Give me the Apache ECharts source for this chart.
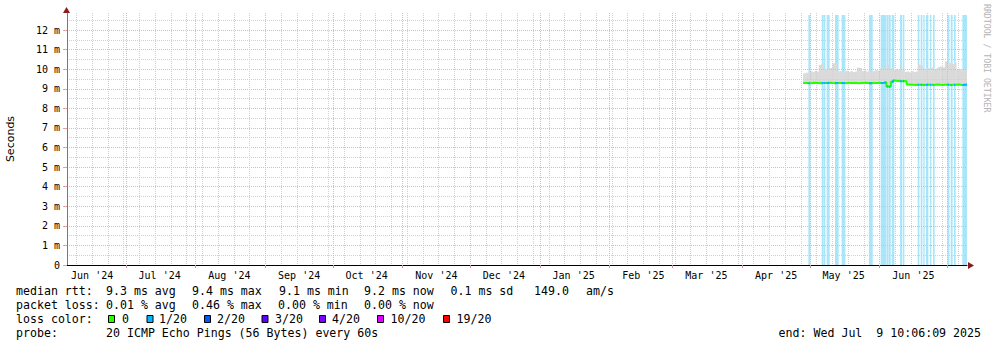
<!DOCTYPE html>
<html><head><meta charset="utf-8">
<script src="https://cdn.jsdelivr.net/npm/echarts@6/dist/echarts.min.js"></script>
<style>html,body{margin:0;padding:0;background:#fff}#c{width:997px;height:347px}</style>
</head><body><div id="c"></div>
<script>
const DAY = 86400000;
// time range of the graph (400 days)
const startTime = Date.UTC(2024, 5, 4, 20, 0);
const endTime = startTime + 400 * DAY;
// first daily sample of the smoke / median data
const firstSample = '2025-04-28T00:00Z';

// median RTT per day (ms), Apr 28 .. Jul 9 2025
const medianRtt = [
  9.29, 9.30, 9.28, 9.29, 9.31, 9.30, 9.29, 9.28, 9.30, 9.29, 9.30, 9.31,
  9.29, 9.28, 9.29, 9.30, 9.30, 9.29, 9.28, 9.29, 9.30, 9.29, 9.29, 9.30,
  9.28, 9.29, 9.30, 9.31, 9.29, 9.28, 9.30, 9.29, 9.30, 9.29, 9.30, 9.31,
  9.33, 9.12, 9.10, 9.36,
  9.42, 9.40, 9.41, 9.39, 9.40, 9.38,
  9.22, 9.20, 9.21, 9.19, 9.20, 9.21, 9.20, 9.19, 9.21, 9.20, 9.20, 9.19,
  9.21, 9.22, 9.20, 9.19, 9.20, 9.21, 9.20, 9.19, 9.20, 9.21, 9.22, 9.20,
  9.19, 9.20, 9.20
];
// upper edge of the smoke per day (ms)
const smokeTop = [
  9.78, 9.82, 9.80, 9.90, 9.86, 9.92, 9.88, 10.22, 10.25, 9.96, 9.98, 10.04,
  10.06, 10.30, 10.26, 9.86, 9.90, 9.84, 9.88, 9.92, 9.86, 9.90, 9.85, 9.88,
  10.08, 10.06, 9.90, 9.94, 9.88, 9.92, 9.86, 9.90, 9.95, 9.92, 10.04, 10.00,
  10.06, 10.22, 10.00, 10.04, 9.96, 10.02, 9.98, 10.04, 9.96, 9.86, 9.88, 9.84,
  9.90, 9.86, 9.88, 10.24, 10.20, 10.04, 10.00, 10.06, 10.02, 10.08, 10.00, 10.04,
  10.12, 10.14, 10.10, 10.40, 10.36, 10.30, 10.26, 10.32, 9.96, 10.00, 9.94, 9.98,
  9.96
];
// intervals with packet loss (1/20)
const lossIntervals = [
  ['2025-04-30T08:00Z', '2025-05-01T02:00Z'],
  ['2025-05-06T06:00Z', '2025-05-06T23:00Z'],
  ['2025-05-07T06:00Z', '2025-05-07T17:00Z'],
  ['2025-05-08T11:00Z', '2025-05-09T15:00Z'],
  ['2025-05-12T04:00Z', '2025-05-13T15:00Z'],
  ['2025-05-15T03:00Z', '2025-05-16T14:00Z'],
  ['2025-05-27T06:00Z', '2025-05-28T18:00Z'],
  ['2025-06-01T11:00Z', '2025-06-03T20:00Z'],
  ['2025-06-04T03:00Z', '2025-06-04T20:00Z'],
  ['2025-06-05T04:00Z', '2025-06-05T18:00Z'],
  ['2025-06-06T09:00Z', '2025-06-07T09:00Z'],
  ['2025-06-10T01:00Z', '2025-06-10T19:00Z'],
  ['2025-06-11T06:00Z', '2025-06-11T20:00Z'],
  ['2025-06-17T22:00Z', '2025-06-18T12:00Z'],
  ['2025-06-19T06:00Z', '2025-06-19T20:00Z'],
  ['2025-06-20T10:00Z', '2025-06-20T20:00Z'],
  ['2025-06-21T14:00Z', '2025-06-22T12:00Z'],
  ['2025-06-23T09:00Z', '2025-06-23T20:00Z'],
  ['2025-06-24T17:00Z', '2025-06-25T07:00Z'],
  ['2025-07-01T02:00Z', '2025-07-01T20:00Z'],
  ['2025-07-02T14:00Z', '2025-07-03T07:00Z'],
  ['2025-07-04T01:00Z', '2025-07-04T15:00Z'],
  ['2025-07-07T18:00Z', '2025-07-09T20:00Z']
];
const lossBarTop = 12.77;
// axis ticks
const monthStarts = ['2024-07-01','2024-08-01','2024-09-01','2024-10-01','2024-11-01','2024-12-01',
  '2025-01-01','2025-02-01','2025-03-01','2025-04-01','2025-05-01','2025-06-01','2025-07-01'];
const monthLabelDays = ['2024-06-16','2024-07-16','2024-08-16','2024-09-16','2024-10-16','2024-11-16',
  '2024-12-16','2025-01-16','2025-02-16','2025-03-16','2025-04-16','2025-05-16','2025-06-16'];
const firstSunday = '2024-06-09';
const yMax = 12.87;
const yTicks = [0,1,2,3,4,5,6,7,8,9,10,11,12];
const yMajorGrid = [1,2,3,4,5,6,7,8,9,10,11,12];
const yMinorGrid = [0.5,1.5,2.5,3.5,4.5,5.5,6.5,7.5,8.5,9.5,10.5,11.5,12.5];
const monthNames = ['Jan','Feb','Mar','Apr','May','Jun','Jul','Aug','Sep','Oct','Nov','Dec'];

const lossLegend = [
  ['0', '#26ff00'], ['1/20', '#00b8ff'], ['2/20', '#0059ff'], ['3/20', '#5e00ff'],
  ['4/20', '#7e00ff'], ['10/20', '#dd00ff'], ['19/20', '#ff0000']
];

const MONO = '"DejaVu Sans Mono", monospace';
const t0 = Date.parse(firstSample);
const sampleTimes = medianRtt.map((_, i) => t0 + i * DAY);
const monthStartTimes = monthStarts.map(d => Date.parse(d + 'T00:00Z'));
const monthLabelTimes = monthLabelDays.map(d => Date.parse(d + 'T00:00Z'));
const weekTimes = [];
for (let t = Date.parse(firstSunday + 'T00:00Z'); t < endTime; t += 7 * DAY) weekTimes.push(t);

const gridMinor = {color: '#d0d0d0', width: 1, type: [1, 1]};
const gridMajor = {color: '#ecb4b4', width: 1, type: [1, 1]};

// smoke rectangles
const smokeData = sampleTimes.map((t, i) => [t, Math.min(t + DAY, endTime), medianRtt[i], smokeTop[i]]);
// median line
const medianLine = sampleTimes.map((t, i) => [t, medianRtt[i]]);
medianLine.push([endTime, medianRtt[medianRtt.length - 1]]);
function medianAt(t) {
  let i = Math.floor((t - t0) / DAY);
  i = Math.max(0, Math.min(medianRtt.length - 1, i));
  return medianRtt[i];
}
const lossLine = [];
lossIntervals.forEach(([a, b]) => {
  const ts = Date.parse(a), te = Math.min(Date.parse(b), endTime);
  lossLine.push([ts, medianAt(ts)]);
  for (let t = t0 + Math.ceil((ts - t0) / DAY) * DAY; t < te; t += DAY) lossLine.push([t, medianAt(t)]);
  lossLine.push([te, medianAt(te - 1)]);
  lossLine.push([te + 1, null]);
});
const lossBars = lossIntervals.map(([a, b]) => [Date.parse(a), Math.min(Date.parse(b), endTime), lossBarTop]);

function rectItem(api, x0v, x1v, y0v, y1v, fill) {
  const p0 = api.coord([x0v, y0v]);
  const p1 = api.coord([x1v, y1v]);
  return {type: 'rect', shape: {x: p0[0], y: p1[1], width: p1[0] - p0[0] + 0.4, height: p0[1] - p1[1]},
    style: {fill: fill}};
}

const chart = echarts.init(document.getElementById('c'), null, {renderer: 'svg', width: 997, height: 347});

const graphics = [];
function txt(x, y, s, opts) {
  graphics.push({type: 'text', x: x, y: y, silent: true,
    style: Object.assign({text: s, font: '11.6px ' + MONO, fill: '#000',
      textVerticalAlign: 'middle', verticalAlign: 'middle'}, opts || {})});
}
// arrows
graphics.push({type: 'polygon', silent: true, shape: {points: [[66.5, 7], [63, 13], [70, 13]]}, style: {fill: '#8b1a1a'}});
graphics.push({type: 'polygon', silent: true, shape: {points: [[974, 265.5], [968, 262], [968, 269]]}, style: {fill: '#8b1a1a'}});
// legend rows
txt(16, 291, 'median rtt:');
txt(106, 291, '9.3 ms avg');
txt(192, 291, '9.4 ms max');
txt(279, 291, '9.1 ms min');
txt(364, 291, '9.2 ms now');
txt(450.5, 291, '0.1 ms sd');
txt(534, 291, '149.0');
txt(586, 291, 'am/s');
txt(16, 305, 'packet loss:');
txt(106, 305, '0.01 % avg');
txt(192, 305, '0.46 % max');
txt(278, 305, '0.00 % min');
txt(364, 305, '0.00 % now');
txt(16, 319, 'loss color:');
const sqX = [108.5, 147, 204.5, 262, 319.5, 377.5, 443.5];
const lbX = [122, 159, 217, 275, 332, 390.5, 456.5];
lossLegend.forEach(([lab, col], i) => {
  graphics.push({type: 'rect', silent: true, shape: {x: sqX[i], y: 315.5, width: 6, height: 7},
    style: {fill: col, stroke: '#000', lineWidth: 1}});
  txt(lbX[i], 319, lab);
});
txt(16, 333, 'probe:');
txt(106, 333, '20 ICMP Echo Pings (56 Bytes) every 60s');
txt(981, 333, 'end: Wed Jul  9 10:06:09 2025', {textAlign: 'right', align: 'right'});
// side credit
graphics.push({type: 'text', x: 987, y: 4, rotation: -Math.PI / 2, silent: true,
  style: {text: 'RRDTOOL / TOBI OETIKER', font: '8.2px ' + MONO, fill: '#b4b4b4',
    textAlign: 'left', align: 'left', textVerticalAlign: 'middle', verticalAlign: 'middle'}});

const hiddenParts = {axisLine: {show: false}, axisLabel: {show: false}};

chart.setOption({
  animation: false,
  backgroundColor: '#ffffff',
  grid: {left: 67, right: 30, top: 13, bottom: 82, containLabel: false, outerBoundsMode: 'none'},
  xAxis: [
    {
      type: 'value', min: startTime, max: endTime, z: 5,
      axisLine: {show: true, lineStyle: {color: '#000', width: 1}},
      axisTick: {show: true, customValues: monthStartTimes, length: 3, lineStyle: {color: '#e08a8a'}},
      axisLabel: {
        customValues: monthLabelTimes, margin: 5, fontFamily: MONO, fontSize: 10, color: '#000',
        formatter: v => { const d = new Date(v); return monthNames[d.getUTCMonth()] + " '" + String(d.getUTCFullYear()).slice(2); }
      },
      splitLine: {show: false}
    },
    Object.assign({
      type: 'value', min: startTime, max: endTime, z: 2,
      axisTick: {show: false, customValues: weekTimes},
      splitLine: {show: true, lineStyle: gridMinor}
    }, hiddenParts),
    Object.assign({
      type: 'value', min: startTime, max: endTime, z: 2,
      axisTick: {show: false, customValues: monthStartTimes},
      splitLine: {show: true, lineStyle: gridMajor}
    }, hiddenParts)
  ],
  yAxis: [
    {
      type: 'value', min: 0, max: yMax, z: 5,
      axisLine: {show: true, lineStyle: {color: '#777', width: 1}},
      axisTick: {show: true, customValues: yTicks, length: 4, lineStyle: {color: '#e0a0a0'}},
      axisLabel: {
        customValues: yTicks, margin: 7, fontFamily: MONO, fontSize: 10, color: '#000',
        formatter: v => (v === 0 ? '0' : v + ' m')
      },
      splitLine: {show: false},
      name: 'Seconds', nameLocation: 'middle', nameRotate: 90, nameGap: 51,
      nameTextStyle: {fontFamily: '"DejaVu Sans", sans-serif', fontSize: 11, color: '#000'}
    },
    Object.assign({
      type: 'value', min: 0, max: yMax, z: 2, position: 'left',
      axisTick: {show: false, customValues: yMinorGrid},
      splitLine: {show: true, lineStyle: gridMinor}
    }, hiddenParts),
    Object.assign({
      type: 'value', min: 0, max: yMax, z: 2, position: 'left',
      axisTick: {show: false, customValues: yMajorGrid},
      splitLine: {show: true, lineStyle: gridMajor}
    }, hiddenParts)
  ],
  series: [
    {
      type: 'custom', z: 1, silent: true, clip: true,
      renderItem: (params, api) => rectItem(api, api.value(0), api.value(1), 0, api.value(2), '#abe5f9'),
      encode: {x: [0, 1], y: 2},
      data: lossBars
    },
    {
      type: 'custom', z: 1, silent: true, clip: true,
      renderItem: (params, api) => rectItem(api, api.value(0), api.value(1), api.value(2), api.value(3), '#dadada'),
      encode: {x: [0, 1], y: [2, 3]},
      data: smokeData
    },
    {
      type: 'line', z: 3, step: 'end', symbol: 'none', silent: true,
      lineStyle: {color: '#26ff00', width: 2}, data: medianLine
    },
    {
      type: 'line', z: 4, step: 'end', symbol: 'none', silent: true, connectNulls: false,
      lineStyle: {color: '#00b8ff', width: 2}, data: lossLine
    }
  ],
  graphic: graphics
});
</script>
</body></html>
